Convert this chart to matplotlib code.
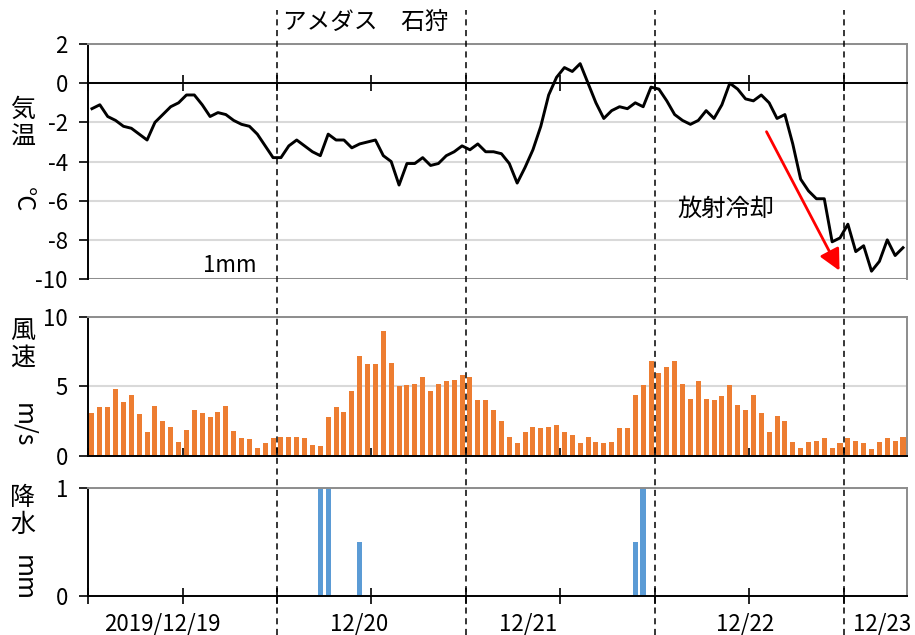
import numpy as np
import matplotlib.pyplot as plt
from matplotlib.lines import Line2D
from matplotlib.transforms import blended_transform_factory

plt.rcParams['font.family'] = ['Noto Sans CJK JP', 'DejaVu Sans']
plt.rcParams['axes.unicode_minus'] = False

# hourly values, 2019/12/19 01:00 onwards (AMeDAS Ishikari)
temp = [-1.3, -1.1, -1.7, -1.9, -2.2, -2.3, -2.6, -2.9, -2.0, -1.6, -1.2, -1.0,
        -0.6, -0.6, -1.1, -1.7, -1.5, -1.6, -1.9, -2.1, -2.2, -2.6, -3.2, -3.8,
        -3.8, -3.2, -2.9, -3.2, -3.5, -3.7, -2.6, -2.9, -2.9, -3.3, -3.1, -3.0,
        -2.9, -3.7, -4.0, -5.2, -4.1, -4.1, -3.8, -4.2, -4.1, -3.7, -3.5, -3.2,
        -3.4, -3.1, -3.5, -3.5, -3.6, -4.1, -5.1, -4.3, -3.4, -2.2, -0.6, 0.3,
        0.8, 0.6, 1.0, 0.0, -1.0, -1.8, -1.4, -1.2, -1.3, -1.0, -1.2, -0.2,
        -0.3, -0.9, -1.6, -1.9, -2.1, -1.9, -1.4, -1.8, -1.1, 0.0, -0.3, -0.8,
        -0.9, -0.6, -1.0, -1.8, -1.6, -3.1, -4.9, -5.5, -5.9, -5.9, -8.1, -7.9,
        -7.2, -8.6, -8.3, -9.6, -9.1, -8.0, -8.8, -8.4]

wind = [3.1, 3.5, 3.5, 4.8, 3.9, 4.4, 3.0, 1.7, 3.6, 2.5, 2.1, 1.0,
        1.9, 3.3, 3.1, 2.8, 3.2, 3.6, 1.8, 1.3, 1.2, 0.6, 0.9, 1.3,
        1.4, 1.4, 1.4, 1.3, 0.8, 0.7, 2.8, 3.5, 3.2, 4.7, 7.2, 6.6,
        6.6, 9.0, 6.7, 5.0, 5.1, 5.2, 5.7, 4.7, 5.2, 5.4, 5.5, 5.8,
        5.7, 4.0, 4.0, 3.3, 2.5, 1.4, 0.9, 1.7, 2.1, 2.0, 2.1, 2.2,
        1.7, 1.5, 0.9, 1.4, 1.0, 0.9, 1.0, 2.0, 2.0, 4.4, 5.1, 6.8,
        6.0, 6.4, 6.8, 5.2, 4.1, 5.4, 4.1, 4.0, 4.3, 5.1, 3.7, 3.3,
        4.4, 3.1, 1.7, 2.9, 2.5, 1.0, 0.6, 1.0, 1.1, 1.3, 0.6, 0.9,
        1.3, 1.1, 0.9, 0.5, 1.0, 1.3, 1.1, 1.4]

rain_hour = [29, 30, 34, 69, 70]
rain_mm = [1.0, 1.0, 0.5, 0.5, 1.0]

day_labels = ['2019/12/19', '12/20', '12/21', '12/22', '12/23']
day_label_pos = [9.4, 34.4, 55.9, 83.4, 100.9]
midnights = [24, 48, 72, 96]

hours = np.arange(len(temp)) + 0.5
GRID = '#D9D9D9'
FRAME = '#8C8C8C'
FS = 16
CAP = 18

fig = plt.figure(figsize=(9.15, 6.35), dpi=100)
ax1 = fig.add_axes([0.0962, 0.5606, 0.895, 0.370])
ax2 = fig.add_axes([0.0962, 0.2819, 0.895, 0.2189])
ax3 = fig.add_axes([0.0962, 0.0614, 0.895, 0.1701])


def frame(ax):
    ax.set_xlim(0, 104)
    ax.spines['top'].set_color(FRAME)
    ax.spines['right'].set_color(FRAME)
    ax.spines['left'].set_color('black')
    for s in ax.spines.values():
        s.set_linewidth(1.4)
    ax.tick_params(axis='y', length=6.5, width=1.2, labelsize=FS, pad=8)
    ax.set_xticks(np.arange(0, 97, 12))
    ax.grid(axis='y', color=GRID, lw=1.5, zorder=0)
    ax.set_axisbelow(True)


# temperature
frame(ax1)
ax1.plot(hours, temp, color='black', lw=2.1, zorder=3)
ax1.set_ylim(-10, 2)
ax1.set_yticks(range(-10, 3, 2))
ax1.spines['bottom'].set_position(('data', 0))
ax1.axhline(-10, color=FRAME, lw=1.4, zorder=1)
ax1.tick_params(axis='x', direction='inout', length=12, width=1.2, labelbottom=False)
ax1.text(18, -9.3, '1mm', fontsize=FS, ha='center', va='center')
ax1.text(81, -6.4, '放射冷却', fontsize=FS + 1.5, ha='center', va='center')
ax1.annotate('', xy=(95.6, -9.7), xytext=(86, -2.35),
             arrowprops=dict(arrowstyle='-|>', color='red', lw=2, mutation_scale=32))

# wind speed
frame(ax2)
ax2.bar(hours, wind, width=0.64, color='#ED7D31', zorder=2)
ax2.set_ylim(0, 10)
ax2.set_yticks([0, 5, 10])
ax2.tick_params(axis='x', direction='in', length=6, width=1.2, labelbottom=False)

# precipitation
frame(ax3)
ax3.bar(np.array(rain_hour) + 0.5, rain_mm, width=0.68, color='#5B9BD5', zorder=2)
ax3.set_ylim(0, 1)
ax3.set_yticks([0, 1])
ax3.tick_params(axis='x', which='major', direction='inout', length=12, width=1.2,
                labelbottom=False)
ax3.set_xticks(day_label_pos, labels=day_labels, minor=True)
ax3.xaxis.remove_overlapping_locs = False
ax3.tick_params(axis='x', which='minor', length=0, labelsize=FS, pad=12)

# dashed day separators across whole figure
for m in midnights:
    tr = blended_transform_factory(ax1.transData, fig.transFigure)
    fig.add_artist(Line2D([m, m], [0, 0.985], transform=tr, color='black',
                          lw=1.1, ls=(0, (4, 3))))

fig.text(0.40, 0.965, 'アメダス　石狩', fontsize=FS + 1, ha='center', va='center')

# vertical axis captions
fig.text(0.025, 0.805, '気\n温', fontsize=CAP, ha='center', va='center', linespacing=1.05)
fig.text(0.025, 0.685, '°C', fontsize=CAP, ha='center', va='center', rotation=-90)
fig.text(0.025, 0.458, '風\n速', fontsize=CAP, ha='center', va='center', linespacing=1.05)
fig.text(0.025, 0.330, 'm/s', fontsize=CAP, ha='center', va='center', rotation=-90)
fig.text(0.025, 0.194, '降\n水', fontsize=CAP, ha='center', va='center', linespacing=1.05)
fig.text(0.025, 0.090, 'mm', fontsize=CAP, ha='center', va='center', rotation=-90)

fig.savefig('out.png', dpi=100)
